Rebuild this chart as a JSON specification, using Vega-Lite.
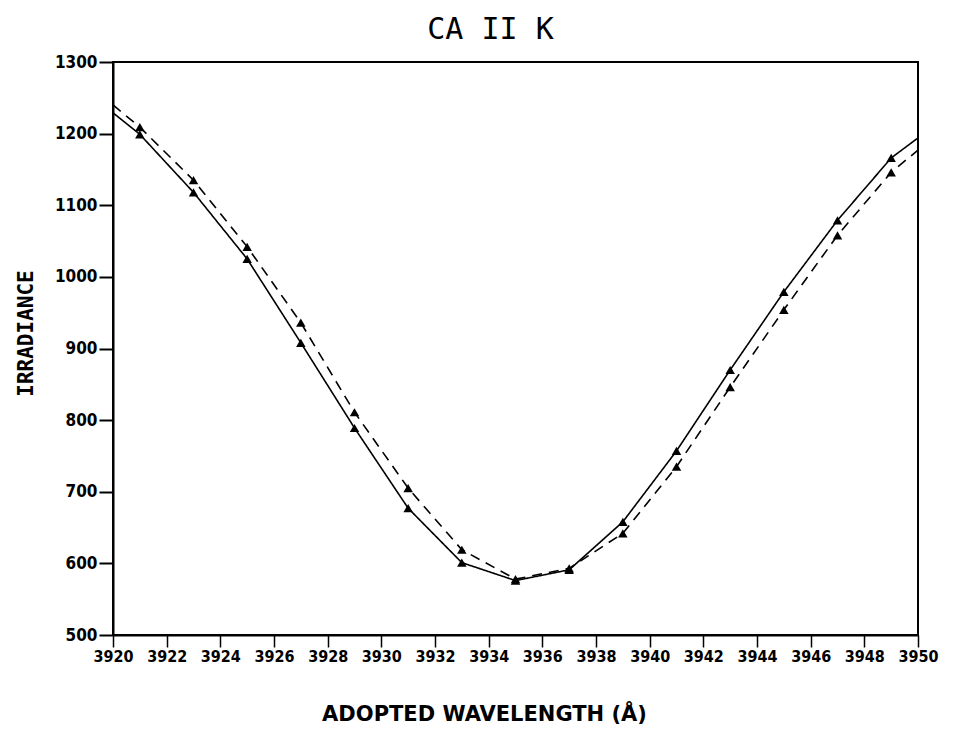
{
  "$schema": "https://vega.github.io/schema/vega-lite/v6.json",
  "autosize": "none",
  "width": 805,
  "height": 573,
  "padding": {"left": 113, "top": 62, "right": 41, "bottom": 94},
  "background": "white",
  "title": {"text": "CA II K", "font": "DejaVu Sans Mono", "fontSize": 30, "fontWeight": "normal", "color": "black", "offset": 8, "anchor": "middle", "dx": -25},
  "config": {"view": {"stroke": "black", "strokeWidth": 2}},
  "data": {"values": [
    {"w": 3920, "v": 1229, "s": "solid"},
    {"w": 3921, "v": 1199, "s": "solid"},
    {"w": 3923, "v": 1118, "s": "solid"},
    {"w": 3925, "v": 1025, "s": "solid"},
    {"w": 3927, "v": 908, "s": "solid"},
    {"w": 3929, "v": 789, "s": "solid"},
    {"w": 3931, "v": 677, "s": "solid"},
    {"w": 3933, "v": 601, "s": "solid"},
    {"w": 3935, "v": 576, "s": "solid"},
    {"w": 3937, "v": 591, "s": "solid"},
    {"w": 3939, "v": 658, "s": "solid"},
    {"w": 3941, "v": 757, "s": "solid"},
    {"w": 3943, "v": 870, "s": "solid"},
    {"w": 3945, "v": 979, "s": "solid"},
    {"w": 3947, "v": 1079, "s": "solid"},
    {"w": 3949, "v": 1166, "s": "solid"},
    {"w": 3950, "v": 1194, "s": "solid"},
    {"w": 3920, "v": 1240, "s": "dashed"},
    {"w": 3921, "v": 1209, "s": "dashed"},
    {"w": 3923, "v": 1135, "s": "dashed"},
    {"w": 3925, "v": 1042, "s": "dashed"},
    {"w": 3927, "v": 936, "s": "dashed"},
    {"w": 3929, "v": 811, "s": "dashed"},
    {"w": 3931, "v": 705, "s": "dashed"},
    {"w": 3933, "v": 619, "s": "dashed"},
    {"w": 3935, "v": 578, "s": "dashed"},
    {"w": 3937, "v": 593, "s": "dashed"},
    {"w": 3939, "v": 642, "s": "dashed"},
    {"w": 3941, "v": 735, "s": "dashed"},
    {"w": 3943, "v": 846, "s": "dashed"},
    {"w": 3945, "v": 954, "s": "dashed"},
    {"w": 3947, "v": 1058, "s": "dashed"},
    {"w": 3949, "v": 1146, "s": "dashed"},
    {"w": 3950, "v": 1177, "s": "dashed"}
  ]},
  "encoding": {
    "x": {"field": "w", "type": "quantitative",
      "scale": {"domain": [3920, 3950], "nice": false, "zero": false},
      "axis": {"values": [3920,3922,3924,3926,3928,3930,3932,3934,3936,3938,3940,3942,3944,3946,3948,3950],
        "grid": false, "domainColor": "black", "domainWidth": 2, "tickColor": "black", "tickWidth": 1.5, "tickSize": 12,
        "labelFont": "DejaVu Sans Condensed", "labelFontWeight": "bold", "labelFontSize": 16, "labelColor": "black", "labelPadding": 1, "labelFlush": false, "labelOverlap": false,
        "format": "d",
        "title": "ADOPTED WAVELENGTH (Å)", "titleFont": "DejaVu Sans", "titleFontWeight": "bold", "titleFontSize": 21, "titleColor": "black",
        "titleLetterSpacing": 1.5, "titleX": 371, "titleY": 85, "titleBaseline": "alphabetic", "titleAlign": "center", "titleAnchor": null}},
    "y": {"field": "v", "type": "quantitative",
      "scale": {"domain": [500, 1300], "nice": false, "zero": false},
      "axis": {"values": [500,600,700,800,900,1000,1100,1200,1300],
        "grid": false, "domainColor": "black", "domainWidth": 2, "tickColor": "black", "tickWidth": 2, "tickSize": 14,
        "labelFont": "DejaVu Sans Condensed", "labelFontWeight": "bold", "labelFontSize": 17, "labelColor": "black", "labelPadding": 2, "labelFlush": false,
        "format": "d",
        "title": "IRRADIANCE", "titleFont": "DejaVu Sans Mono", "titleFontWeight": "bold", "titleFontSize": 21, "titleColor": "black",
        "titleLetterSpacing": 2, "titleX": -87, "titleY": 271, "titleAngle": 270, "titleBaseline": "middle", "titleAlign": "center", "titleAnchor": null}}
  },
  "layer": [
    {"mark": {"type": "line", "color": "black", "strokeWidth": 1.6},
     "encoding": {"detail": {"field": "s"},
       "strokeDash": {"field": "s", "type": "nominal", "scale": {"domain": ["solid", "dashed"], "range": [[1, 0], [10, 7]]}, "legend": null}}},
    {"transform": [{"filter": "datum.w > 3920 && datum.w < 3950"}],
     "mark": {"type": "point", "shape": "triangle-up", "filled": true, "color": "black", "size": 90, "opacity": 1}}
  ]
}
